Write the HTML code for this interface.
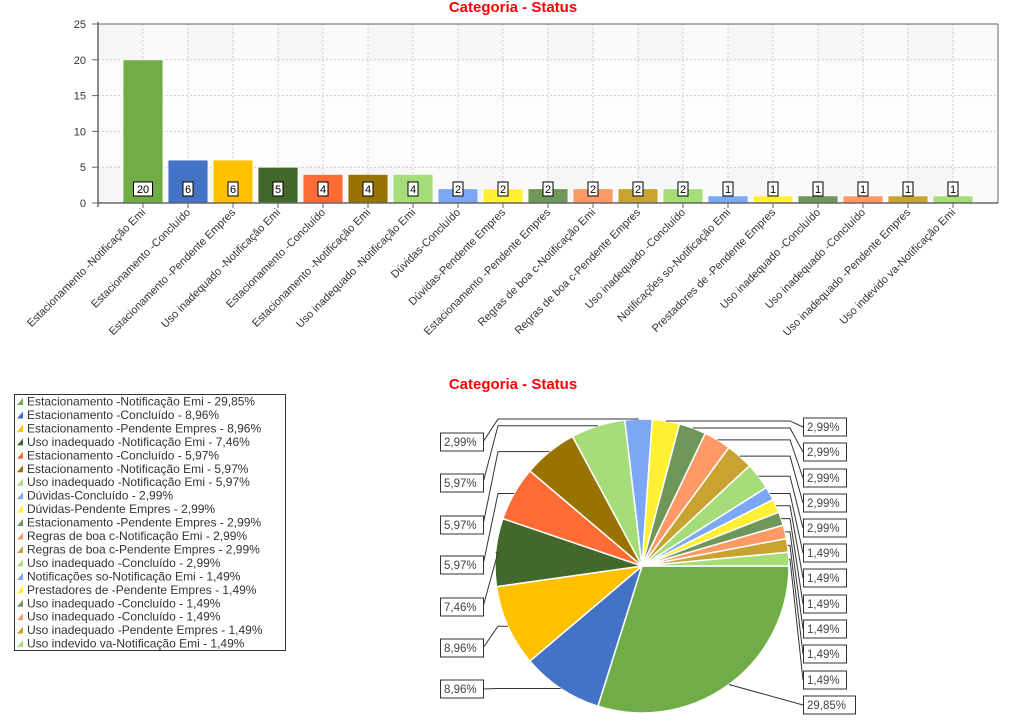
<!DOCTYPE html>
<html><head><meta charset="utf-8"><style>
body{margin:0;background:#fff;width:1024px;height:722px;overflow:hidden;font-family:"Liberation Sans",Arial,sans-serif}
svg{position:absolute;left:0;top:0}
</style></head><body>
<svg id="s" width="1024" height="722" xmlns="http://www.w3.org/2000/svg" font-family="Liberation Sans, Arial, sans-serif"></svg>
<script>
const s=document.getElementById('s');let h='';
const names=["Estacionamento -Notificação Emi","Estacionamento -Concluído","Estacionamento -Pendente Empres","Uso inadequado -Notificação Emi","Estacionamento -Concluído","Estacionamento -Notificação Emi","Uso inadequado -Notificação Emi","Dúvidas-Concluído","Dúvidas-Pendente Empres","Estacionamento -Pendente Empres","Regras de boa c-Notificação Emi","Regras de boa c-Pendente Empres","Uso inadequado -Concluído","Notificações so-Notificação Emi","Prestadores de -Pendente Empres","Uso inadequado -Concluído","Uso inadequado -Concluído","Uso inadequado -Pendente Empres","Uso indevido va-Notificação Emi"];
const vals=[20,6,6,5,4,4,4,2,2,2,2,2,2,1,1,1,1,1,1];
const cols=["#70AD47","#4472C4","#FFC000","#43682B","#FF6B35","#997300","#A5DE78","#7BA7F5","#FFF033","#70975A","#FF9966","#C9A332","#A5DE78","#7BA7F5","#FFF033","#70975A","#FF9966","#C9A332","#A5DE78"];
const pct=["29,85","8,96","8,96","7,46","5,97","5,97","5,97","2,99","2,99","2,99","2,99","2,99","2,99","1,49","1,49","1,49","1,49","1,49","1,49"];
h+='<text x="513" y="12" text-anchor="middle" fill="#f00" font-weight="bold" font-size="15">Categoria - Status</text>';
const X0=98,X1=998,Y0=203,Y1=24,k=(Y0-Y1)/25;
h+=`<rect x="${X0}" y="${Y1}" width="900" height="179" fill="#fafafa"/>`;
for(let i=0;i<20;i+=2)h+=`<rect x="${X0+45*i}" y="${Y1}" width="45" height="179" fill="#f3f3f3" opacity="0.6"/>`;
h+=`<rect x="${X0}" y="${Y0-20*k}" width="900" height="${15*k}" fill="#fff" opacity="0.6"/>`;
for(let v=5;v<=25;v+=5){const y=Y0-v*k;h+=`<line x1="${X0}" x2="${X1}" y1="${y}" y2="${y}" stroke="#ccc" stroke-dasharray="2,2"/>`;}
for(let i=1;i<20;i++){const x=X0+45*i;h+=`<line x1="${x}" x2="${x}" y1="${Y1}" y2="${Y0}" stroke="#ccc" stroke-dasharray="2,2"/>`;}
h+=`<line x1="${X0}" x2="${X1}" y1="${Y1}" y2="${Y1}" stroke="#666"/>`;
h+=`<line x1="${X1}" x2="${X1}" y1="${Y1}" y2="${Y0}" stroke="#666"/>`;
for(let v=0;v<=25;v+=5){const y=Y0-v*k;h+=`<line x1="${X0-6}" x2="${X0}" y1="${y}" y2="${y}" stroke="#666"/><text x="${X0-12}" y="${y+4}" text-anchor="end" font-size="11" fill="#333">${v}</text>`;}
vals.forEach((v,i)=>{const c=X0+45*(i+1),y=Y0-v*k;
h+=`<rect x="${c-20}" y="${y}" width="40" height="${v*k}" fill="${cols[i]}" stroke="#fff" stroke-width="0.8"/>`;
const w=v>=10?19:10;h+=`<rect x="${c-w/2}" y="182" width="${w}" height="14" fill="#fff" stroke="#000"/><text x="${c}" y="193" text-anchor="middle" font-size="11" fill="#000">${v}</text>`;
h+=`<line x1="${c}" x2="${c}" y1="${Y0}" y2="${Y0+5}" stroke="#666"/>`;
h+=`<text transform="translate(${c+3},${Y0+10}) rotate(-45)" text-anchor="end" font-size="11" fill="#333">${names[i]}</text>`;});
h+=`<line x1="${X0}" x2="${X0}" y1="${Y1-2}" y2="${Y0+4}" stroke="#666" stroke-width="1.5"/>`;
h+=`<line x1="${X0}" x2="${X1}" y1="${Y0}" y2="${Y0}" stroke="#666" stroke-width="1.5"/>`;
h+='<rect x="14.5" y="394.5" width="271" height="256" fill="#fff" stroke="#333"/>';
vals.forEach((v,i)=>{const y=401+i*13.45;h+=`<path d="M17 ${y+4}L23 ${y+4}L23 ${y-3}Z" fill="${cols[i]}"/><text x="27" y="${y+4.5}" font-size="12" fill="#333">${names[i]} - ${pct[i]}%</text>`;});
h+='<text x="513" y="389" text-anchor="middle" fill="#f00" font-weight="bold" font-size="15">Categoria - Status</text>';
const cx=642,cy=566,r=147,tot=67;let a=0;const mids=[];
vals.forEach((v,i)=>{const a2=a+v/tot*2*Math.PI;const x1=cx+r*Math.cos(a),y1=cy+r*Math.sin(a),x2=cx+r*Math.cos(a2),y2=cy+r*Math.sin(a2);
h+=`<path d="M${cx} ${cy}L${x1} ${y1}A${r} ${r} 0 ${a2-a>Math.PI?1:0} 1 ${x2} ${y2}Z" fill="${cols[i]}" stroke="#fff" stroke-width="1.5"/>`;
mids.push((a+a2)/2);a=a2;});
const L=[[7,442],[6,483],[5,525],[4,565],[3,607],[2,648],[1,689]];
L.forEach(([i,y])=>{const m=mids[i],px=cx+r*Math.cos(m),py=cy+r*Math.sin(m);
h+=`<polyline points="483,${y} 498,${py} ${px},${py}" fill="none" stroke="#333"/>`;
h+=`<rect x="440.5" y="${y-9}" width="43" height="18" fill="#fff" stroke="#333"/><text x="444" y="${y+4}" font-size="11.5" fill="#444">${pct[i]}%</text>`;});
const R=[[8,427],[9,452],[10,478],[11,503],[12,528],[13,553],[14,578],[15,604],[16,629],[17,654],[18,680]];
R.forEach(([i,y])=>{const m=mids[i],px=cx+r*Math.cos(m),py=cy+r*Math.sin(m);
h+=`<polyline points="803,${y} 790,${py} ${px},${py}" fill="none" stroke="#333"/>`;
h+=`<rect x="803.5" y="${y-9}" width="43" height="18" fill="#fff" stroke="#333"/><text x="807" y="${y+4}" font-size="11.5" fill="#444">${pct[i]}%</text>`;});
{const m=mids[0],px=cx+r*Math.cos(m),py=cy+r*Math.sin(m);
h+=`<line x1="803" y1="705" x2="${px}" y2="${py}" stroke="#333"/><rect x="803.5" y="696" width="52" height="18" fill="#fff" stroke="#333"/><text x="807" y="709" font-size="11.5" fill="#444">29,85%</text>`;}
s.innerHTML=h;
</script>
</body></html>
